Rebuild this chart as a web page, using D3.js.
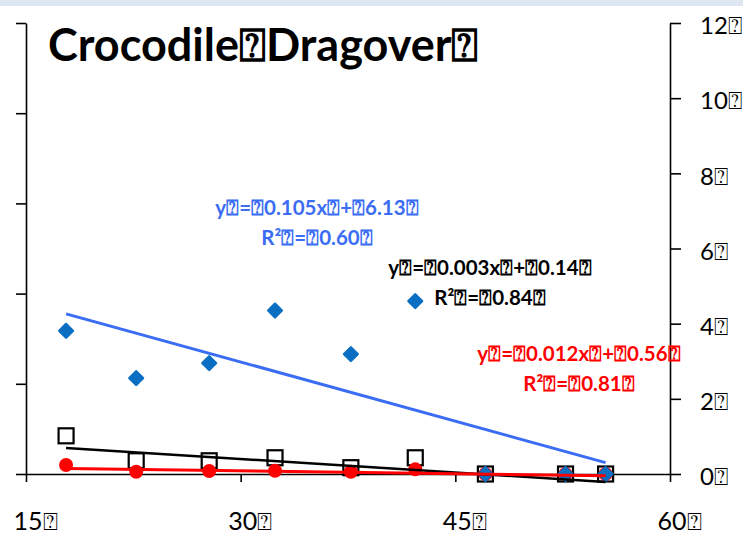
<!DOCTYPE html>
<html>
<head>
<meta charset="utf-8">
<script src="https://cdn.jsdelivr.net/npm/d3@7"></script>
<style>
  html, body { margin: 0; padding: 0; background: #ffffff; }
  svg { display: block; }
  text { font-family: Lato, "Open Sans", "DejaVu Sans", sans-serif; }
</style>
</head>
<body>
<svg id="chart" width="743" height="536"></svg>
<script>
// Placeholder glyph that the source text carries in place of its spaces
const Q = "\u2370";

const chartTitle = "Crocodile" + Q + "Dragover" + Q;

// Shared x values of the three series
const xValues = [17.8, 22.7, 27.8, 32.4, 37.7, 42.2, 47.1, 52.7, 55.5];

// Blue diamonds, plotted against the labelled right axis (0 to 12)
const blueValues = [3.81, 2.55, 2.95, 4.35, 3.19, 4.60, 0, 0, 0];
// Black squares, plotted against the unlabelled left axis (0 to 1.5)
const blackValues = [0.127, 0.044, 0.044, 0.054, 0.021, 0.054, 0, 0, 0];
// Red circles, on their own hidden scale (0 to 28)
const redValues = [0.56, 0.14, 0.19, 0.20, 0.14, 0.29, 0, 0, 0];

// Linear trend lines: slope, intercept, R squared
const blueTrend = [-0.105, 6.13, 0.60];
const blackTrend = [-0.003, 0.14, 0.84];
const redTrend = [-0.012, 0.56, 0.81];

// Trend line labels as printed
const blueLabel = ["y" + Q + "=" + Q + "0.105x" + Q + "+" + Q + "6.13" + Q, "R\u00B2" + Q + "=" + Q + "0.60" + Q];
const blackLabel = ["y" + Q + "=" + Q + "0.003x" + Q + "+" + Q + "0.14" + Q, "R\u00B2" + Q + "=" + Q + "0.84" + Q];
const redLabel = ["y" + Q + "=" + Q + "0.012x" + Q + "+" + Q + "0.56" + Q, "R\u00B2" + Q + "=" + Q + "0.81" + Q];

// Axis ticks
const xTicks = [15, 30, 45, 60];
const rightTicks = [0, 2, 4, 6, 8, 10, 12];
const leftTicks = [0, 0.3, 0.6, 0.9, 1.2, 1.5];

const svg = d3.select("#chart");

// Pale band along the top edge
svg.append("rect").attr("x", 0).attr("y", 0).attr("width", 743).attr("height", 6)
  .attr("fill", "#dde6f1");

const x = d3.scaleLinear().domain([15, 60]).range([26, 670]);
const yRight = d3.scaleLinear().domain([0, 12]).range([474, 23]);
const yLeft = d3.scaleLinear().domain([0, 1.5]).range([474, 23]);
const yRed = d3.scaleLinear().domain([0, 28]).range([474, 23]);

// Axes
const axisStyle = g => {
  g.selectAll("path.domain").attr("stroke", "#000").attr("stroke-width", 1.6);
  g.selectAll(".tick line").attr("stroke", "#000").attr("stroke-width", 1.6);
};

svg.append("g")
  .attr("transform", "translate(26,0)")
  .call(d3.axisLeft(yLeft).tickValues(leftTicks).tickSize(10).tickSizeOuter(0).tickFormat(""))
  .call(axisStyle);

const gx = svg.append("g")
  .attr("transform", "translate(0,474)")
  .call(d3.axisBottom(x).tickValues(xTicks).tickSize(8).tickSizeOuter(0).tickPadding(30)
    .tickFormat(d => d + Q))
  .call(axisStyle);
gx.selectAll(".tick text")
  .attr("font-size", 25).attr("fill", "#000").attr("dx", 9)
  .style("font-family", "Lato, sans-serif");

const gr = svg.append("g")
  .attr("transform", "translate(670,0)")
  .call(d3.axisRight(yRight).tickValues(rightTicks).tickSize(11).tickSizeOuter(0).tickPadding(19)
    .tickFormat(d => d + Q))
  .call(axisStyle);
gr.selectAll(".tick text")
  .attr("font-size", 24).attr("fill", "#000").attr("dy", "0.45em")
  .style("font-family", "Lato, sans-serif");

// Markers
const pts = d3.range(xValues.length);

svg.append("g").selectAll("rect").data(pts).join("rect")
  .attr("x", i => x(xValues[i]) - 7.5)
  .attr("y", i => yLeft(blackValues[i]) - 7.5)
  .attr("width", 15).attr("height", 15)
  .attr("fill", "#fff").attr("stroke", "#000").attr("stroke-width", 2.2);

svg.append("g").selectAll("circle").data(pts).join("circle")
  .attr("cx", i => x(xValues[i]))
  .attr("cy", i => yRed(redValues[i]))
  .attr("r", 7)
  .attr("fill", "#ff0000");

const diamond = d3.symbol().type(d3.symbolDiamond2).size(120);
svg.append("g").selectAll("path").data(pts).join("path")
  .attr("transform", i => `translate(${x(xValues[i])},${yRight(blueValues[i])})`)
  .attr("d", diamond)
  .attr("fill", "#0a6fc2")
  .attr("stroke", "#0a6fc2").attr("stroke-width", 2.4).attr("stroke-linejoin", "round");

// Trend lines over the data range
const x0 = d3.min(xValues), x1 = d3.max(xValues);
function trend(t, yScale, color, width) {
  svg.append("line")
    .attr("x1", x(x0)).attr("y1", yScale(t[0] * x0 + t[1]))
    .attr("x2", x(x1)).attr("y2", yScale(t[0] * x1 + t[1]))
    .attr("stroke", color).attr("stroke-width", width);
}
trend(blackTrend, yLeft, "#000", 2.6);
trend(redTrend, yRed, "#ff0000", 3);
trend(blueTrend, yRight, "#3a6cf4", 3);

// Trend line labels
function label(lines, cx, baseline, color) {
  const t = svg.append("text")
    .attr("text-anchor", "middle")
    .attr("font-size", 20.5).attr("font-weight", 700).attr("fill", color);
  lines.forEach((s, k) => {
    t.append("tspan").attr("x", cx).attr("y", baseline + k * 29.5).text(s);
  });
}
label(blueLabel, 317, 215, "#3a6cf4");
label(blackLabel, 490, 275, "#000");
label(redLabel, 579, 361, "#ff0000");

// Title
svg.append("text")
  .attr("x", 48).attr("y", 61)
  .attr("font-size", 45).attr("font-weight", 700).attr("fill", "#000")
  .text(chartTitle);
</script>
</body>
</html>
